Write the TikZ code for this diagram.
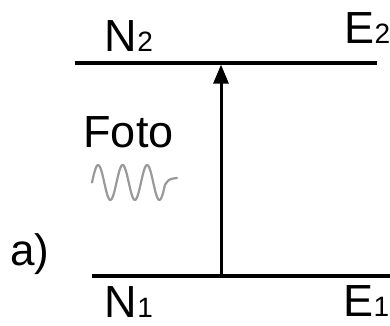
\documentclass[tikz,border=0pt]{standalone}
\usepackage{fontspec}
\setmainfont{Liberation Sans}
\usetikzlibrary{arrows.meta}
\begin{document}
\begin{tikzpicture}[x=1pt,y=1pt,
  lbl/.style={anchor=base west,inner sep=0pt,font=\fontsize{45}{45}\selectfont},
  level/.style={line width=3.2pt},
  wave/.style={line width=2.2pt,color=black!40,line cap=round,line join=round}]
\useasboundingbox (0,0) rectangle (390,325);
\newcommand{\subs}[1]{{\fontsize{28}{28}\selectfont #1}}
% level lines
\coordinate (t1) at (75,262);
\coordinate (t2) at (377,262);
\coordinate (b1) at (92,49);
\coordinate (b2) at (390,49);
\coordinate (ab) at (221,49);
\coordinate (at) at (221,262);
\draw[level] (t1) -- (t2);
\draw[level] (b1) -- (b2);
\draw[line width=3pt,-{Triangle[width=15pt,length=19pt]}] (ab) -- ([yshift=-1.6pt]at);
% labels
\node[lbl] (n2) at (104.6,274) {N\subs{2}};
\node[lbl] (e2) at (344.5,281.5) {E\subs{2}};
\node[lbl] (n1) at (104.6,8) {N\subs{1}};
\node[lbl] (e1) at (343.5,8.5) {E\subs{1}};
\node[lbl] (foto) at (83.3,178) {Foto};
\node[lbl,font=\fontsize{44}{44}\selectfont] (a) at (10.3,60) {a)};
% photon wave
\draw[wave] plot[domain=92:165,samples=80,smooth] (\x,{142.5+17.5*sin((\x-92)/24.5*360)})
  .. controls (169,146) .. (177,147);
\end{tikzpicture}
\end{document}
